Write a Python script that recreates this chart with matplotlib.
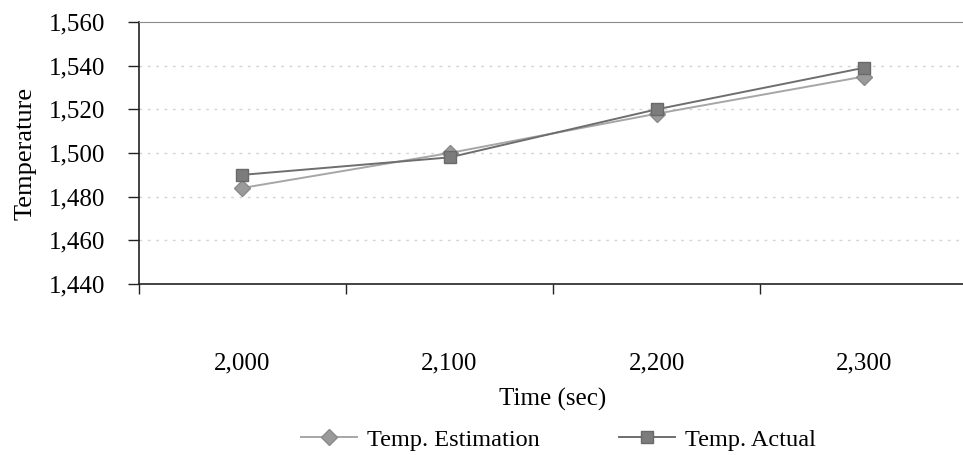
import matplotlib
matplotlib.use("Agg")
import matplotlib.pyplot as plt
from matplotlib.ticker import FuncFormatter
import numpy as np

plt.rcParams['font.family'] = ['Liberation Serif', 'DejaVu Serif']

# data
times = ['2,000', '2,100', '2,200', '2,300']
temp_est = [1484, 1500, 1518, 1535]
temp_act = [1490, 1498, 1520, 1539]
y_ticks = list(range(1440, 1561, 20))

fig = plt.figure(figsize=(9.63, 4.55), dpi=100)
ax = fig.add_axes([0.1443, 0.3758, 0.8600, 0.5758])

pos = np.arange(len(times)) + 0.5
ax.plot(pos, temp_est, color='#a6a6a6', lw=1.4, marker='D', ms=8,
        mfc='#9a9a9a', mec='#8a8a8a', label='Temp. Estimation', zorder=3)
ax.plot(pos, temp_act, color='#6e6e6e', lw=1.4, marker='s', ms=8.5,
        mfc='#7c7c7c', mec='#6a6a6a', label='Temp. Actual', zorder=4)

ax.set_xlim(0, 4)
ax.set_ylim(1440, 1560)
ax.set_yticks(y_ticks)
ax.yaxis.set_major_formatter(FuncFormatter(lambda v, p: f'{int(v):,}'))

# category boundaries as major ticks, labels centred on minor ticks
ax.set_xticks(np.arange(0, 5))
ax.set_xticklabels([])
ax.set_xticks(pos, minor=True)
ax.set_xticklabels(times, minor=True)
ax.tick_params(axis='x', which='major', direction='out', length=7, width=1, color='#222222')
ax.tick_params(axis='x', which='minor', length=0, pad=49, labelsize=18)
ax.tick_params(axis='y', direction='out', length=8, width=1, color='#222222',
               labelsize=18, pad=16)

for v in y_ticks[1:-1]:
    ax.axhline(v, color='#d4d4d4', lw=1, ls=(0, (2, 4)), zorder=1)

ax.spines['top'].set_color('#8a8a8a')
ax.spines['right'].set_visible(False)
ax.spines['left'].set_color('#222222')
ax.spines['bottom'].set_color('#222222')
ax.spines['left'].set_linewidth(1.2)
ax.spines['bottom'].set_linewidth(1.2)

ax.set_ylabel('Temperature', fontsize=19, labelpad=9)
ax.set_xlabel('Time (sec)', fontsize=18)
ax.xaxis.set_label_coords(0.5, -0.395)

fig.legend(loc='center', bbox_to_anchor=(0.580, 0.033), ncol=2, frameon=False,
           fontsize=17.5, handlelength=2.3, columnspacing=3.25, handletextpad=0.41)

fig.savefig('out.png', dpi=100)
